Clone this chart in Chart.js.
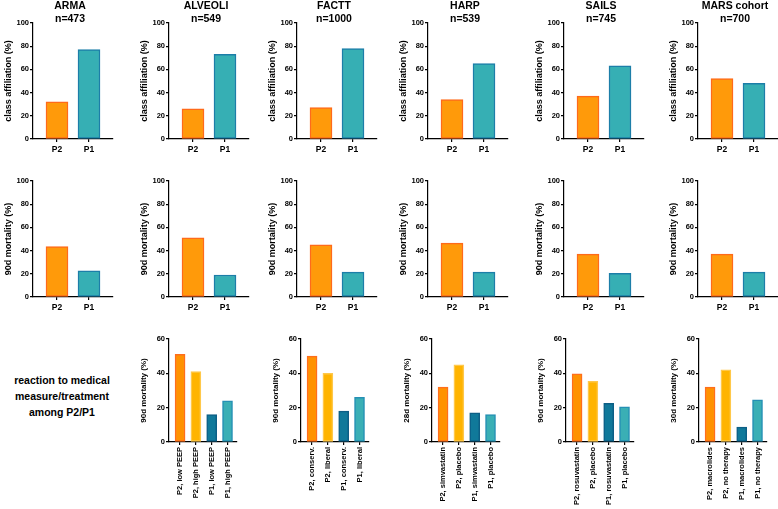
<!DOCTYPE html>
<html>
<head>
<meta charset="utf-8">
<script src="https://cdn.jsdelivr.net/npm/chart.js@4.4.1/dist/chart.umd.min.js"></script>
<style>
    body { margin: 0; background: #fff; width: 778px; height: 509px; position: relative; overflow: hidden; font-family: "Liberation Sans", Arial, sans-serif; }
    canvas { position: absolute; }
    #note { position: absolute; left: 0; top: 372px; width: 124px; text-align: center; font-weight: bold; font-size: 10.5px; line-height: 16px; color: #000; }
</style>
</head>
<body>
<div id="note">reaction to medical<br>measure/treatment<br>among P2/P1</div>
<script>
// data
const studies = ['ARMA', 'ALVEOLI', 'FACTT', 'HARP', 'SAILS', 'MARS cohort'];
const cohortN = [473, 549, 1000, 539, 745, 700];
const classes = ['P2', 'P1'];
const affiliationP2 = [32, 26, 27, 34, 37, 52];
const affiliationP1 = [77, 73, 78, 65, 63, 48];
const mortalityP2 = [43.5, 51, 45, 46.5, 37, 37];
const mortalityP1 = [22.5, 19, 21.5, 21.5, 20.5, 21.5];
const percentTicks = [0, 20, 40, 60, 80, 100];
const treatmentTicks = [0, 20, 40, 60];

const treatmentTitles = [null, '90d mortality (%)', '90d mortality (%)', '28d mortality (%)', '90d mortality (%)', '30d mortality (%)'];
const treatmentLabels = [
    null,
    ['P2, low PEEP', 'P2, high PEEP', 'P1, low PEEP', 'P1, high PEEP'],
    ['P2, conserv.', 'P2, liberal', 'P1, conserv.', 'P1, liberal'],
    ['P2, simvastatin', 'P2, placebo', 'P1, simvastatin', 'P1, placebo'],
    ['P2, rosuvastatin', 'P2, placebo', 'P1, rosuvastatin', 'P1, placebo'],
    ['P2, macrolides', 'P2, no therapy', 'P1, macrolides', 'P1, no therapy']
];
const treatmentValues = [
    null,
    [51, 41, 16, 24],
    [50, 40, 18, 26],
    [32, 45, 17, 16],
    [39.7, 35.4, 22.5, 20.5],
    [32, 42, 8.7, 24.6]
];

// layout
const axisLeft = [33, 169, 297, 428, 564, 698];
const axisLeftTreat = [null, 169, 301, 432, 566, 699];
const twoFill = ['#FF9A0A', '#36AFB4'];
const twoEdge = ['#FF6A1A', '#1C7EA8'];
const fourFill = ['#FF9200', '#FFB400', '#10799A', '#3AAFB5'];
const fourEdge = ['#FF6E1C', '#FFC84A', '#0D5F86', '#2590B4'];

Chart.defaults.font.family = '"Liberation Sans", Arial, sans-serif';
Chart.defaults.font.weight = 'bold';
Chart.defaults.color = '#000';

// study name + n, centred over the plot area
const panelTitle = {
    id: 'panelTitle',
    afterDraw(chart, args, opts) {
        if (!opts.lines) return;
        const { ctx, chartArea } = chart;
        const cx = (chartArea.left + chartArea.right) / 2 - 3;
        ctx.save();
        ctx.font = 'bold 10.5px "Liberation Sans", Arial, sans-serif';
        ctx.fillStyle = '#000';
        ctx.textAlign = 'center';
        ctx.textBaseline = 'middle';
        opts.lines.forEach((t, k) => ctx.fillText(t, cx, 6.5 + k * 12.3));
        ctx.restore();
    }
};

function barPanel(o) {
    const canvas = document.createElement('canvas');
    canvas.width = o.w;
    canvas.height = o.h;
    canvas.style.left = o.x + 'px';
    canvas.style.top = o.y + 'px';
    canvas.style.width = o.w + 'px';
    canvas.style.height = o.h + 'px';
    document.body.appendChild(canvas);

    const axisLine = { drawOnChartArea: false, drawTicks: true, tickLength: 3, color: '#000', lineWidth: 1.2, offset: false };

    new Chart(canvas, {
        type: 'bar',
        data: {
            datasets: [{
                data: o.values.map((v, i) => ({ x: i, y: v })),
                backgroundColor: o.fill,
                borderColor: o.edge,
                borderWidth: 1.5,
                borderSkipped: false,
                barThickness: o.bar
            }]
        },
        plugins: [panelTitle],
        options: {
            responsive: false,
            animation: false,
            layout: { padding: { top: o.padTop, left: 0, right: o.w - 32 - o.plotW, bottom: 0 } },
            plugins: {
                legend: { display: false },
                tooltip: { enabled: false },
                panelTitle: { lines: o.title }
            },
            scales: {
                x: {
                    type: 'linear',
                    min: o.min,
                    max: o.max,
                    offset: false,
                    afterBuildTicks: s => { s.ticks = o.labels.map((_, i) => ({ value: i })); },
                    afterFit: s => { s.height = o.xh; },
                    grid: axisLine,
                    border: { color: '#000', width: 1.2 },
                    ticks: {
                        callback: v => o.labels[v],
                        font: { size: o.labelSize, weight: 'bold' },
                        padding: o.labelPad,
                        autoSkip: false,
                        minRotation: o.rot,
                        maxRotation: o.rot
                    }
                },
                y: {
                    min: 0,
                    max: o.yticks[o.yticks.length - 1],
                    afterBuildTicks: s => { s.ticks = o.yticks.map(v => ({ value: v })); },
                    afterFit: s => { s.width = 32; },
                    grid: axisLine,
                    border: { color: '#000', width: 1.2 },
                    ticks: { font: { size: 7.5, weight: 'bold' }, padding: 1 },
                    title: {
                        display: true,
                        text: o.ytitle,
                        font: { size: o.titleSize, weight: 'bold' },
                        padding: { top: 2, bottom: 0 }
                    }
                }
            }
        }
    });
}

studies.forEach((name, i) => {
    // class affiliation
    barPanel({
        x: axisLeft[i] - 32, y: 0, w: 118, h: 159, padTop: 23, plotW: 80, xh: 20,
        title: [name, 'n=' + cohortN[i]],
        values: [affiliationP2[i], affiliationP1[i]], labels: classes,
        fill: twoFill, edge: twoEdge, bar: 22, min: -0.75, max: 1.75,
        yticks: percentTicks, ytitle: 'class affiliation (%)', titleSize: 9,
        labelSize: 8.5, labelPad: 3, rot: 0
    });
    // 90d mortality
    barPanel({
        x: axisLeft[i] - 32, y: 173, w: 118, h: 144, padTop: 8, plotW: 80, xh: 20,
        values: [mortalityP2[i], mortalityP1[i]], labels: classes,
        fill: twoFill, edge: twoEdge, bar: 22, min: -0.75, max: 1.75,
        yticks: percentTicks, ytitle: '90d mortality (%)', titleSize: 9,
        labelSize: 8.5, labelPad: 3, rot: 0
    });
    // reaction to treatment
    if (treatmentValues[i]) {
        barPanel({
            x: axisLeftTreat[i] - 32, y: 331, w: 106, h: 177, padTop: 8, plotW: 68, xh: 66,
            values: treatmentValues[i], labels: treatmentLabels[i],
            fill: fourFill, edge: fourEdge, bar: 10, min: -0.7, max: 3.6,
            yticks: treatmentTicks, ytitle: treatmentTitles[i], titleSize: 8,
            labelSize: 7.5, labelPad: 2, rot: 90
        });
    }
});
</script>
</body>
</html>
